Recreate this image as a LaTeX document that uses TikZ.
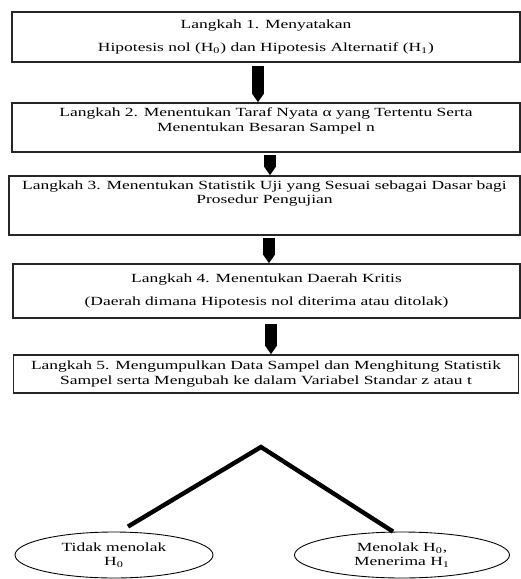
\documentclass[tikz,border=0pt]{standalone}
\usepackage{fontspec}
\setmainfont{Liberation Serif}[FakeStretch=1.4]
\usetikzlibrary{shapes.geometric,arrows.meta}

% Text block of a step box: [position]{height}{text}
\newcommand{\steptext}[3][c]{\parbox[c][#2][#1]{10.1cm}{\centering #3}}

\begin{document}
\begin{tikzpicture}[x=0.02cm,y=-0.02cm,
  font=\fontsize{7.1pt}{8.1pt}\selectfont,
  stepbox/.style={rectangle, draw=black!85, line width=0.9pt, inner xsep=0pt, inner ysep=0.1cm},
  stepflow/.style={line width=6.6pt, -{Triangle[width=0pt 1,length=5pt]}},
  result/.style={ellipse, draw, line width=0.5pt, inner sep=0pt, align=center, minimum height=0.92cm},
  split/.style={line width=2.5pt}]

% Picture size
\useasboundingbox (0,0) rectangle (521,579);

% Steps
\node[stepbox, minimum width=10.16cm] (b1) at (266,37)
  {\steptext{0.8cm}{Langkah 1. Menyatakan\\[5pt] Hipotesis nol (H\textsubscript{0}) dan Hipotesis Alternatif (H\textsubscript{1})}};
\node[stepbox, minimum width=10.16cm] (b2) at (266,127.5)
  {\steptext[t]{0.78cm}{Langkah 2. Menentukan Taraf Nyata α yang Tertentu Serta\\ Menentukan Besaran Sampel n}};
\node[stepbox, minimum width=10.22cm] (b3) at (264.5,205.5)
  {\steptext[t]{0.98cm}{Langkah 3. Menentukan Statistik Uji yang Sesuai sebagai Dasar bagi\\ Prosedur Pengujian}};
\node[stepbox, minimum width=10.14cm] (b4) at (266.5,291)
  {\steptext{0.88cm}{Langkah 4. Menentukan Daerah Kritis\\[5pt] (Daerah dimana Hipotesis nol diterima atau ditolak)}};
\node[stepbox, minimum width=10.04cm] (b5) at (266,374)
  {\steptext{0.56cm}{Langkah 5. Mengumpulkan Data Sampel dan Menghitung Statistik\\ Sampel serta Mengubah ke dalam Variabel Standar z atau t}};

% Decisions
\node[result, minimum width=3.96cm] (e1) at (114,555) {Tidak menolak\\H\textsubscript{0}};
\node[result, minimum width=4.3cm] (e2) at (402,555) {Menolak H\textsubscript{0},\\Menerima H\textsubscript{1}};

% Branch point
\coordinate (top) at (261,447);

% Arrows between steps
\draw[stepflow] ([xshift=-0.16cm,yshift=-0.06cm]b1.south) -- ([xshift=-0.16cm]b2.north);
\draw[stepflow] ([xshift=0.08cm,yshift=-0.04cm]b2.south) -- ([xshift=0.08cm]b2.south |- b3.north);
\draw[stepflow] ([xshift=0.09cm,yshift=-0.04cm]b3.south) -- ([xshift=0.09cm]b3.south |- b4.north);
\draw[stepflow] ([xshift=0.09cm,yshift=-0.1cm]b4.south) -- ([xshift=0.09cm]b4.south |- b5.north);

% Draw the two branches
\draw[split] ([xshift=0.28cm,yshift=0.1cm]e1.north) -- (top) -- ([xshift=-0.18cm]e2.north);

\end{tikzpicture}
\end{document}
